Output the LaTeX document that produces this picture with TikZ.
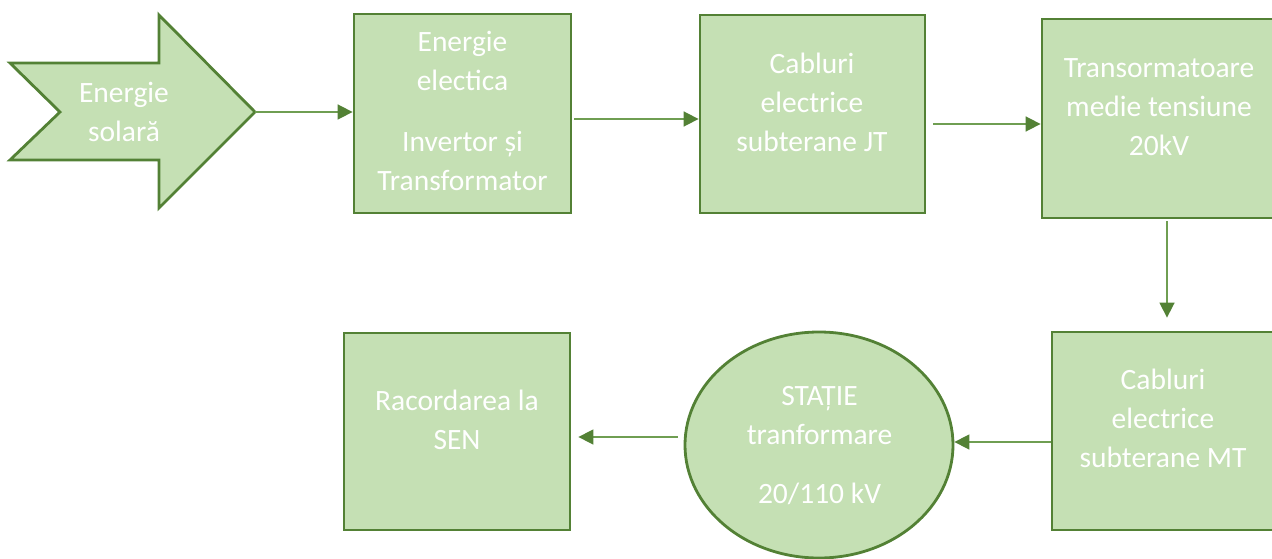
\documentclass[tikz,border=0pt]{standalone}
\usepackage{fontspec}
\setmainfont{Carlito}
\usetikzlibrary{shapes.geometric,arrows.meta}
\definecolor{boxfill}{HTML}{C5E0B4}
\definecolor{boxline}{HTML}{538135}
\definecolor{connline}{HTML}{6F9E52}
\tikzset{
  box/.style={draw=boxline, fill=boxfill, line width=2.8pt, inner sep=0pt, rectangle},
  oval/.style={draw=boxline, fill=boxfill, line width=2.8pt, inner sep=0pt, ellipse},
  txt/.style={text=white, align=center, inner sep=0pt, font=\fontsize{29.5}{39}\selectfont},
  conn/.style={draw=connline, line width=1.6pt, -{Triangle[length=15pt,width=15pt,color=boxline]}}
}
\begin{document}
\begin{tikzpicture}[x=1pt,y=-1pt]
\useasboundingbox (0,0) rectangle (1272,559);
% solar arrow shape
\path[draw=boxline, fill=boxfill, line width=2.8pt, line join=miter]
  (10,63) -- (159,63) -- (159,15) -- (255,112) -- (159,208) -- (159,160) -- (10,160) -- (60,112) -- cycle;
\coordinate (soltip) at (255,112);
\node[txt] (soltxt) at (124,114.4) {\strut Energie\\\strut solară};
% boxes
\node[box, minimum width=217pt, minimum height=199pt] (b1) at (462.5,113.5) {};
\node[box, minimum width=225pt, minimum height=198pt] (b2) at (812.5,114) {};
\node[box, minimum width=234pt, minimum height=199pt] (b3) at (1159,118.5) {};
\node[box, minimum width=224pt, minimum height=198pt] (b4) at (1164,431) {};
\node[oval, minimum width=268pt, minimum height=226pt] (st) at (819,445) {};
\node[box, minimum width=226pt, minimum height=197pt] (b5) at (457,431.5) {};
% texts
\node[txt] (t1) at (462.5,113.2) {\strut Energie\\\strut electica\\[22pt]\strut Invertor și\\\strut Transformator};
\node[txt] (t2) at (812,104.7) {\strut Cabluri\\\strut electrice\\\strut subterane JT};
\node[txt] (t3) at (1159,108.7) {\strut Transormatoare\\\strut medie tensiune\\\strut 20kV};
\node[txt] (t4) at (1163,420.7) {\strut Cabluri\\\strut electrice\\\strut subterane MT};
\node[txt] (t5) at (819.5,446.2) {\strut STAȚIE\\\strut tranformare\\[20pt]\strut 20/110 kV};
\node[txt] (t6) at (457,422.2) {\strut Racordarea la\\\strut SEN};
% connectors
\draw[conn] (soltip) -- (b1.west |- soltip);
\draw[conn, shorten <=2pt] (b1.east |- 0,119) -- (b2.west |- 0,119);
\draw[conn, shorten <=7pt] (b2.east |- 0,124) -- (b3.west |- 0,124);
\draw[conn, shorten <=2pt, shorten >=13pt] (b3.south -| 1167,0) -- (b4.north -| 1167,0);
\draw[conn] (b4.west |- 0,442) -- (st.east |- 0,442);
\draw[conn, shorten <=6pt, shorten >=7pt] (st.west |- 0,437) -- (b5.east |- 0,437);
\end{tikzpicture}
\end{document}
